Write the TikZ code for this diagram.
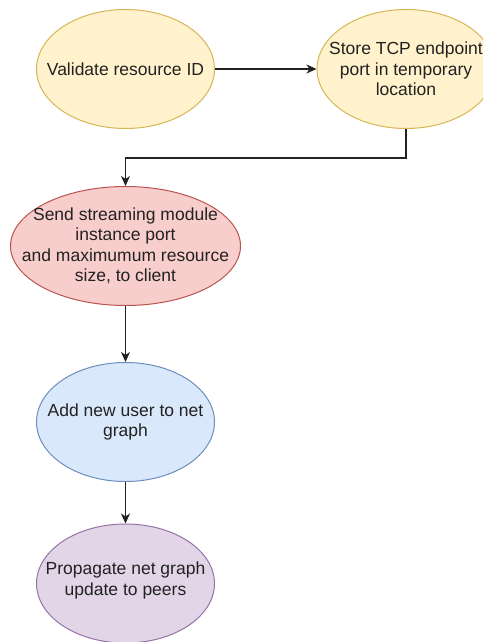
\documentclass[tikz,border=0pt]{standalone}
\usepackage{fontspec}
\setmainfont{Liberation Sans}
\usetikzlibrary{shapes.geometric,arrows.meta}
\definecolor{yfill}{HTML}{FFF2CC}
\definecolor{ydraw}{HTML}{D6B656}
\definecolor{rfill}{HTML}{F8CECC}
\definecolor{rdraw}{HTML}{B85450}
\definecolor{bfill}{HTML}{DAE8FC}
\definecolor{bdraw}{HTML}{6C8EBF}
\definecolor{pfill}{HTML}{E1D5E7}
\definecolor{pdraw}{HTML}{9673A6}
\definecolor{ink}{HTML}{222222}
\begin{document}
\begin{tikzpicture}[x=1pt,y=-1pt,
  stage/.style={ellipse, inner sep=0pt, line width=1pt, minimum height=119pt, minimum width=178pt},
  txt/.style={align=center, inner sep=0pt, text=ink, font=\fontsize{17.5}{20.5}\selectfont},
  conn/.style={draw=ink, line width=1.3pt, -{Stealth[length=10pt,width=9pt,inset=3pt]}}]
\useasboundingbox (0,0) rectangle (483,642);
\clip (0,0) rectangle (483,642);

% process steps
\node[stage, fill=yfill, draw=ydraw] (validate) at (125.5,69) {};
\node[stage, fill=yfill, draw=ydraw] (store) at (406,69) {};
\node[stage, fill=rfill, draw=rdraw, minimum width=230pt] (send) at (125.5,246) {};
\node[stage, fill=bfill, draw=bdraw] (adduser) at (125.5,422) {};
\node[stage, fill=pfill, draw=pdraw] (propagate) at (125.5,583.5) {};

% step captions
\node[txt] (validate-t) at (validate.center) {Validate resource ID};
\node[txt] (store-t) at (store.center) {Store TCP endpoint\\port in temporary\\location};
\node[txt] (send-t) at (send.center) {Send streaming module\\instance port\\and maximumum resource\\size, to client};
\node[txt] (adduser-t) at (adduser.center) {Add new user to net\\graph};
\node[txt] (propagate-t) at ([yshift=3pt]propagate.center) {Propagate net graph\\update to peers};

% flow
\draw[conn] (validate) -- (store);
\draw[conn] (store.south) -- ++(0,29) -| (send.north);
\draw[conn] (send) -- (adduser);
\draw[conn] (adduser) -- (propagate);
\end{tikzpicture}
\end{document}
